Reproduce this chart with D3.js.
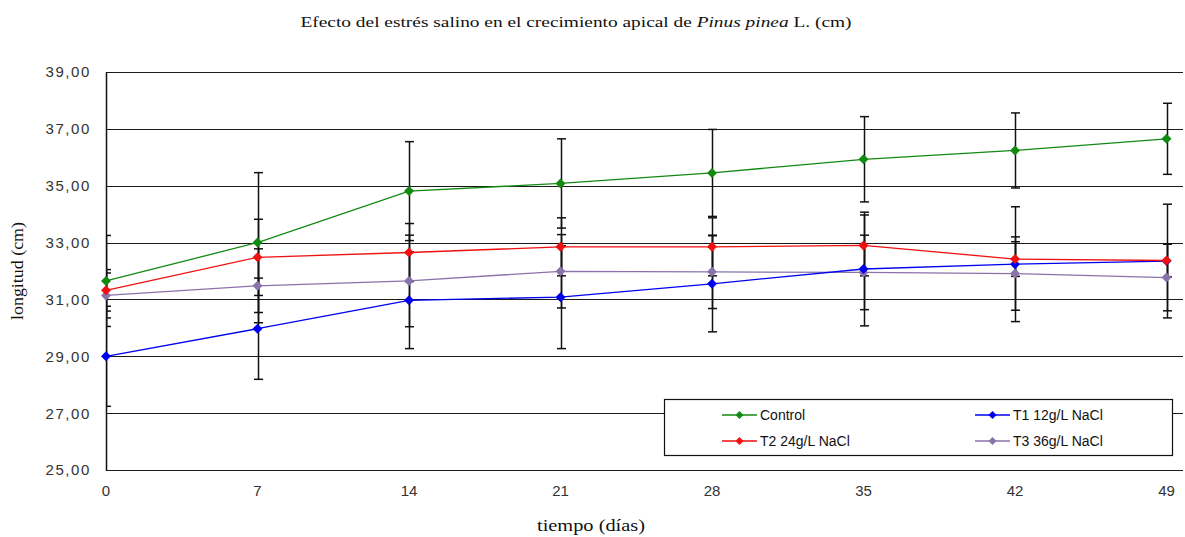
<!DOCTYPE html>
<html><head><meta charset="utf-8">
<script src="https://cdn.jsdelivr.net/npm/d3@7"></script>
<style>html,body{margin:0;padding:0;background:#fff;}svg{display:block;}</style>
</head><body>
<svg id="c" width="1185" height="537"></svg>
<script>
const days = [0, 7, 14, 21, 28, 35, 42, 49];
const seriesNames = ["Control", "T1 12g/L NaCl", "T2 24g/L NaCl", "T3 36g/L NaCl"];
const seriesColors = ["#128a12", "#0000f0", "#f01010", "#8a72aa"];
const controlVals = [31.65, 33.0, 34.81, 35.08, 35.45, 35.93, 36.24, 36.65];
const t1Vals = [29.0, 29.97, 30.97, 31.08, 31.55, 32.07, 32.24, 32.35];
const t2Vals = [31.32, 32.48, 32.65, 32.85, 32.85, 32.9, 32.42, 32.37];
const t3Vals = [31.14, 31.48, 31.65, 31.99, 31.97, 31.95, 31.91, 31.77];
const controlErr = [1.6, 2.46, 1.74, 1.57, 1.53, 1.5, 1.32, 1.25];
const t1Err = [1.76, 1.78, 1.70, 1.81, 1.69, 2.0, 2.02, 2.0];
const t2Err = [0.73, 1.34, 1.02, 1.02, 1.02, 1.07, 0.61, 0.58];
const t3Err = [0.79, 1.3, 1.61, 1.29, 1.29, 1.31, 1.29, 1.17];
const yTicks = [25, 27, 29, 31, 33, 35, 37, 39];
const titleMain = "Efecto del estrés salino en el crecimiento apical de ";
const titleItalic = "Pinus pinea";
const titleEnd = " L. (cm)";
const yTitle = "longitud (cm)";
const xTitle = "tiempo (días)";

const vals = [controlVals, t1Vals, t2Vals, t3Vals];
const errs = [controlErr, t1Err, t2Err, t3Err];

const svg = d3.select("#c");
const L = 106, R = 1183, T = 72, B = 470;
const x = d3.scaleLinear().domain([0, 49]).range([L, 1166.5]);
const y = d3.scaleLinear().domain([25, 39]).range([B, T]);

svg.append("defs").append("clipPath").attr("id", "pc")
  .append("rect").attr("x", L).attr("y", 0).attr("width", R - L).attr("height", 537);

// gridlines
svg.append("g").selectAll("line").data(yTicks).join("line")
  .attr("x1", L).attr("x2", R)
  .attr("y1", d => Math.round(y(d)) + 0.5).attr("y2", d => Math.round(y(d)) + 0.5)
  .attr("stroke", "#1a1a1a").attr("stroke-width", 1.2);

// y labels
svg.append("g").selectAll("text").data(yTicks).join("text")
  .attr("x", 91).attr("y", d => y(d)).attr("dy", "0.36em")
  .attr("text-anchor", "end")
  .attr("font-family", "Liberation Sans, Arial, sans-serif").attr("font-size", 15)
  .attr("letter-spacing", "1.6px")
  .attr("fill", "#333").text(d => d3.format(".2f")(d).replace(".", ","));

// x labels
svg.append("g").selectAll("text").data(days).join("text")
  .attr("x", d => x(d)).attr("y", 496)
  .attr("text-anchor", "middle")
  .attr("font-family", "Liberation Sans, Arial, sans-serif").attr("font-size", 15)
  .attr("fill", "#333").text(d => d);

// error bars
const eg = svg.append("g").attr("clip-path", "url(#pc)");
vals.forEach((v, si) => {
  days.forEach((d, i) => {
    const cx = Math.round(x(d)) + 0.5;
    const y1 = y(v[i] + errs[si][i]), y2 = y(v[i] - errs[si][i]);
    eg.append("line").attr("x1", cx).attr("x2", cx).attr("y1", y1).attr("y2", y2)
      .attr("stroke", "#111").attr("stroke-width", 1.5);
    [y1, y2].forEach(yy => {
      eg.append("line").attr("x1", cx - 4.5).attr("x2", cx + 4.5).attr("y1", yy).attr("y2", yy)
        .attr("stroke", "#111").attr("stroke-width", 1.5);
    });
  });
});

// axis line (left)
svg.append("line").attr("x1", L + 0.5).attr("x2", L + 0.5).attr("y1", T).attr("y2", B + 1)
  .attr("stroke", "#111").attr("stroke-width", 1.5);

// series lines & markers
const line = d3.line().x((d, i) => x(days[i])).y(d => y(d));
const diamond = (cx, cy, r) => `M${cx},${cy - r}L${cx + r},${cy}L${cx},${cy + r}L${cx - r},${cy}Z`;
[3, 1, 2, 0].forEach(si => {
  const g = svg.append("g");
  g.append("path").attr("d", line(vals[si])).attr("fill", "none")
    .attr("stroke", seriesColors[si]).attr("stroke-width", 1.3);
  g.selectAll("path.m").data(vals[si]).join("path").attr("class", "m")
    .attr("d", (d, i) => diamond(x(days[i]), y(d), 5))
    .attr("fill", seriesColors[si]);
});

// legend
const lg = svg.append("g");
lg.append("rect").attr("x", 664.5).attr("y", 399.5).attr("width", 508).attr("height", 56)
  .attr("fill", "#fff").attr("stroke", "#111").attr("stroke-width", 1.2);
const legPos = [[722, 415], [975, 415], [722, 441], [975, 441]];
seriesNames.forEach((n, si) => {
  const [lx, ly] = legPos[si];
  lg.append("line").attr("x1", lx).attr("x2", lx + 35).attr("y1", ly).attr("y2", ly)
    .attr("stroke", seriesColors[si]).attr("stroke-width", 1.3);
  lg.append("path").attr("d", diamond(lx + 17.5, ly, 4)).attr("fill", seriesColors[si]);
  lg.append("text").attr("x", lx + 38).attr("y", ly).attr("dy", "0.36em")
    .attr("font-family", "Liberation Sans, Arial, sans-serif").attr("font-size", 14)
    .attr("fill", "#111").text(n);
});

// title
const tt = svg.append("text").attr("x", 576).attr("y", 27).attr("text-anchor", "middle")
  .attr("font-family", "Liberation Serif, Times New Roman, serif").attr("font-size", 14.5)
  .attr("fill", "#111");
tt.append("tspan").text(titleMain);
tt.append("tspan").attr("font-style", "italic").text(titleItalic);
tt.append("tspan").text(titleEnd);
tt.attr("textLength", 551).attr("lengthAdjust", "spacingAndGlyphs");

// axis titles
svg.append("text").attr("transform", "translate(23,271) rotate(-90)")
  .attr("text-anchor", "middle")
  .attr("font-family", "Liberation Serif, Times New Roman, serif").attr("font-size", 16)
  .attr("textLength", 98).attr("lengthAdjust", "spacingAndGlyphs")
  .attr("fill", "#111").text(yTitle);
svg.append("text").attr("x", 591).attr("y", 531).attr("text-anchor", "middle")
  .attr("font-family", "Liberation Serif, Times New Roman, serif").attr("font-size", 16)
  .attr("textLength", 108).attr("lengthAdjust", "spacingAndGlyphs")
  .attr("fill", "#111").text(xTitle);
</script>
</body></html>
